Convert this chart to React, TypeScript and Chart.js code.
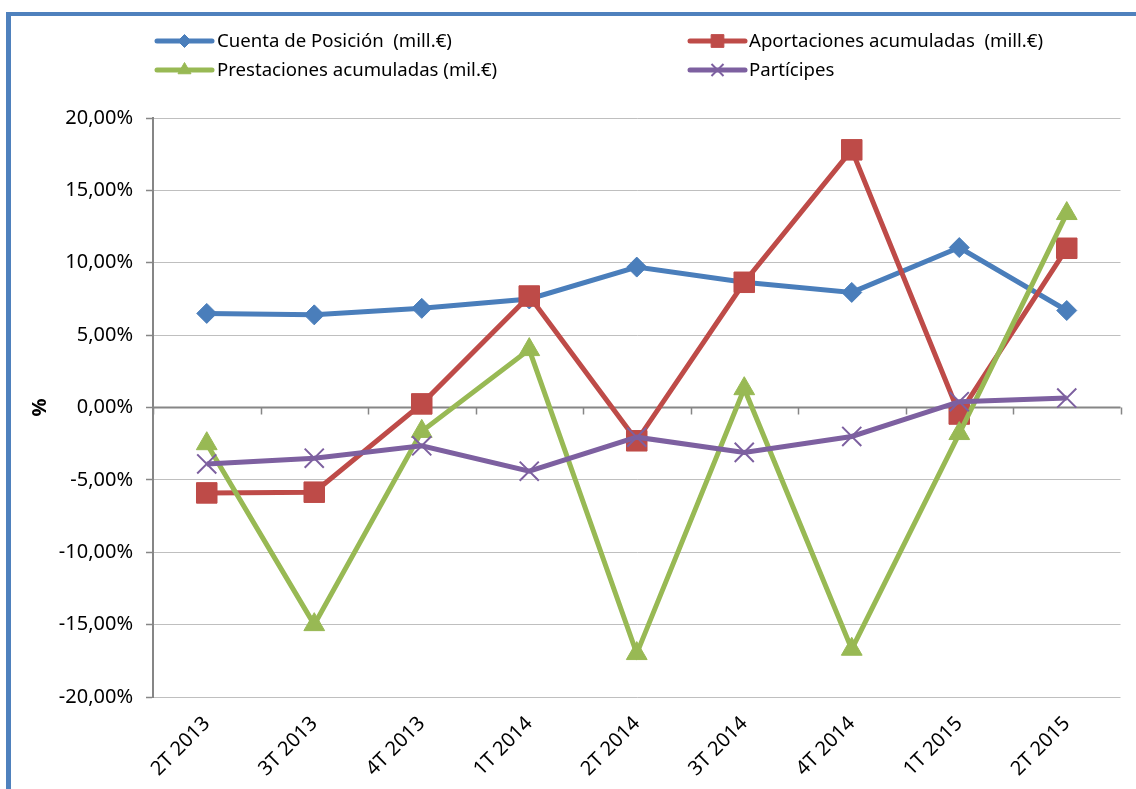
import React, { useEffect, useRef } from 'react';
import { Chart, registerables } from 'chart.js';
import { drawPoint } from 'chart.js/helpers';
Chart.register(...registerables);

const categories = ['2T 2013', '3T 2013', '4T 2013', '1T 2014', '2T 2014', '3T 2014', '4T 2014', '1T 2015', '2T 2015'];
const cuentaPosicion = [6.5, 6.4, 6.85, 7.5, 9.7, 8.65, 7.95, 11.05, 6.7];
const aportaciones = [-5.9, -5.85, 0.25, 7.7, -2.3, 8.65, 17.8, -0.45, 11.0];
const prestaciones = [-2.5, -15.0, -1.65, 4.0, -17.0, 1.3, -16.7, -1.8, 13.4];
const participes = [-3.9, -3.5, -2.65, -4.4, -2.05, -3.1, -2.0, 0.4, 0.65];
const seriesNames = [
  'Cuenta de Posición  (mill.€)',
  'Aportaciones acumuladas  (mill.€)',
  'Prestaciones acumuladas (mil.€)',
  'Partícipes',
];
const yMin = -20;
const yMax = 20;
const yStep = 5;
const yTitle = '%';

const FONT = "'Noto Sans', 'DejaVu Sans', sans-serif";
const colors = ['#4A7EBB', '#BE4B48', '#98B954', '#7D60A0'];
const styles = [
  { pointStyle: 'rectRot', radius: 10, legendRadius: 6.5, bw: 1 },
  { pointStyle: 'rect', radius: 14.5, legendRadius: 9, bw: 1 },
  { pointStyle: 'triangle', radius: 12, legendRadius: 7.5, bw: 1 },
  { pointStyle: 'crossRot', radius: 13.5, legendRadius: 8.5, bw: 2 },
];

const zeroAxisPlugin = {
  id: 'zeroAxis',
  beforeDatasetsDraw(chart: any) {
    const { ctx, chartArea, scales } = chart;
    const x = scales.x;
    const y = scales.y;
    const y0 = y.getPixelForValue(0);
    ctx.save();
    ctx.strokeStyle = '#868686';
    ctx.lineWidth = 2;
    ctx.beginPath();
    ctx.moveTo(chartArea.left, y0);
    ctx.lineTo(chartArea.right, y0);
    ctx.stroke();
    ctx.lineWidth = 1.5;
    ctx.beginPath();
    for (let i = 0; i <= categories.length; i++) {
      const px = Math.round(x.getPixelForValue(i - 0.5)) + 0.5;
      ctx.moveTo(px, y0);
      ctx.lineTo(px, y0 + 7);
    }
    ctx.stroke();
    ctx.restore();
  },
};

const legendPlugin = {
  id: 'customLegend',
  afterDraw(chart: any) {
    const { ctx } = chart;
    const cols = [
      { x1: 157, x2: 212, tx: 217 },
      { x1: 690, x2: 745, tx: 749 },
    ];
    const rows = [41, 70];
    ctx.save();
    seriesNames.forEach((name, i) => {
      const col = cols[i % 2];
      const ry = rows[Math.floor(i / 2)];
      ctx.strokeStyle = colors[i];
      ctx.lineWidth = 5;
      ctx.lineCap = 'round';
      ctx.beginPath();
      ctx.moveTo(col.x1, ry);
      ctx.lineTo(col.x2, ry);
      ctx.stroke();
      ctx.lineCap = 'butt';
      ctx.fillStyle = colors[i];
      ctx.lineWidth = styles[i].bw;
      drawPoint(ctx, { pointStyle: styles[i].pointStyle, radius: styles[i].legendRadius, borderWidth: styles[i].bw, rotation: 0 } as any, (col.x1 + col.x2) / 2, ry);
      ctx.fillStyle = '#000';
      ctx.font = `18.6px ${FONT}`;
      ctx.textBaseline = 'middle';
      ctx.textAlign = 'left';
      ctx.fillText(name, col.tx, ry + 1);
    });
    ctx.restore();
  },
};

export default function App() {
  const ref = useRef<HTMLCanvasElement>(null);
  useEffect(() => {
    if (!ref.current) return;
    const seriesData = [cuentaPosicion, aportaciones, prestaciones, participes];
    const chart = new Chart(ref.current, {
      type: 'line',
      data: {
        labels: categories,
        datasets: seriesData.map((d, i) => ({
          label: seriesNames[i],
          data: d,
          borderColor: colors[i],
          backgroundColor: colors[i],
          borderWidth: 5,
          pointStyle: styles[i].pointStyle as any,
          pointRadius: styles[i].radius,
          pointBorderWidth: styles[i].bw,
          pointBorderColor: colors[i],
          pointBackgroundColor: colors[i],
          tension: 0,
          order: 3 - i,
        })),
      },
      options: {
        responsive: false,
        animation: false,
        layout: { padding: { top: 118, right: 15, left: 0, bottom: 0 } },
        plugins: { legend: { display: false }, tooltip: { enabled: false } },
        scales: {
          x: {
            offset: true,
            grid: { display: false },
            border: { display: false },
            ticks: {
              minRotation: 45,
              maxRotation: 45,
              padding: 7,
              color: '#000',
              font: { family: FONT, size: 20 },
            },
            afterFit(scale: any) {
              scale.height = 92;
            },
          },
          y: {
            min: yMin,
            max: yMax,
            ticks: {
              stepSize: yStep,
              padding: 13,
              color: '#000',
              font: { family: FONT, size: 20 },
              callback: (v: any) => Number(v).toFixed(2).replace('.', ',') + '%',
            },
            grid: { color: '#BFBFBF', lineWidth: 1, tickColor: '#868686', tickLength: 7, tickWidth: 1.5 },
            border: { color: '#868686', width: 2 },
            title: {
              display: true,
              text: yTitle,
              color: '#000',
              font: { family: FONT, size: 20, weight: 'bold' },
              padding: { top: 28, bottom: 0 },
            },
            afterFit(scale: any) {
              scale.width = 153;
            },
          },
        },
      },
      plugins: [zeroAxisPlugin, legendPlugin],
    });
    return () => chart.destroy();
  }, []);
  return (
    <div style={{ position: 'absolute', left: 0, top: 0, width: 1136, height: 789, overflow: 'hidden', background: '#fff' }}>
      <canvas ref={ref} width={1136} height={789} style={{ position: 'absolute', left: 0, top: 0 }} />
      <div
        style={{
          position: 'absolute',
          left: 6,
          top: 12,
          width: 1200,
          height: 900,
          borderLeft: '5px solid #4F81BD',
          borderTop: '4px solid #4F81BD',
          pointerEvents: 'none',
        }}
      />
    </div>
  );
}
